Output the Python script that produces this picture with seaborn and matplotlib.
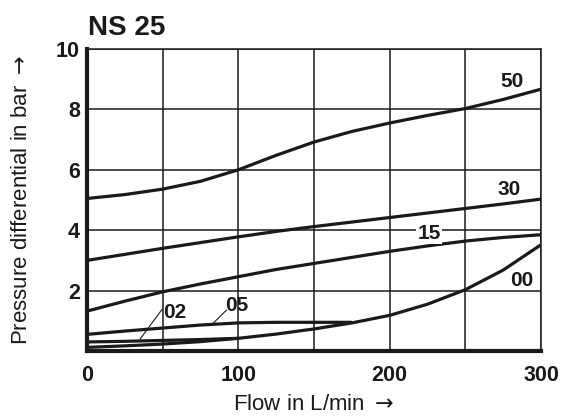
import numpy as np
import pandas as pd
import matplotlib
matplotlib.use("Agg")
import matplotlib.pyplot as plt
import seaborn as sns

# ==========================================
# 数据
# ==========================================
flow = [0, 25, 50, 75, 100, 125, 150, 175, 200, 225, 250, 275, 300]

dp_50 = [5.05, 5.18, 5.36, 5.62, 6.00, 6.48, 6.92, 7.27, 7.55, 7.80, 8.03, 8.33, 8.67]
dp_30 = [3.00, 3.20, 3.40, 3.59, 3.78, 3.96, 4.12, 4.27, 4.42, 4.57, 4.72, 4.87, 5.03]
dp_15 = [1.32, 1.65, 1.96, 2.22, 2.46, 2.70, 2.90, 3.10, 3.30, 3.48, 3.64, 3.76, 3.85]
dp_00 = [0.12, 0.17, 0.23, 0.31, 0.42, 0.56, 0.73, 0.93, 1.18, 1.55, 2.03, 2.68, 3.52]

flow_05 = [0, 25, 50, 75, 100, 125, 150, 175]
dp_05 = [0.55, 0.66, 0.76, 0.86, 0.93, 0.95, 0.95, 0.95]

flow_02 = [0, 25, 50, 75, 100]
dp_02 = [0.30, 0.32, 0.35, 0.38, 0.42]

curve_names = ["50", "30", "15", "00", "05", "02"]
curve_x = [flow, flow, flow, flow, flow_05, flow_02]
curve_y = [dp_50, dp_30, dp_15, dp_00, dp_05, dp_02]

# 曲线标注位置
label_x = [281, 279, 226, 287, 99, 58]
label_y = [8.94, 5.35, 3.90, 2.33, 1.52, 1.27]

# 引线 (02, 05)
leader_02 = ([49.8, 35.0], [1.39, 0.39])
leader_05 = ([92.3, 83.4], [1.36, 0.92])

x_ticks = [0, 50, 100, 150, 200, 250, 300]
x_ticklabels = ["0", "", "100", "", "200", "", "300"]
y_ticks = [2, 4, 6, 8, 10]
y_ticklabels = ["2", "4", "6", "8", "10"]

# ==========================================
# 绘图
# ==========================================
sns.set_style("white")
plt.rcParams['font.family'] = ['Liberation Sans', 'DejaVu Sans']

ink = "#1a1a1a"
fig = plt.figure(figsize=(5.63, 4.19), dpi=100)
ax = fig.add_axes([0.1545, 0.1623, 0.8065, 0.7207])

for name, xs, ys in zip(curve_names, curve_x, curve_y):
    df = pd.DataFrame({"flow": xs, "dp": ys})
    sns.lineplot(data=df, x="flow", y="dp", ax=ax, color=ink, linewidth=2.3,
                 solid_capstyle="butt", zorder=3)

for xs, ys in [leader_02, leader_05]:
    ax.plot(xs, ys, color=ink, linewidth=0.8, zorder=3)

for name, lx, ly in zip(curve_names, label_x, label_y):
    bbox = None
    if name == "15":
        bbox = dict(facecolor="white", edgecolor="none", pad=1.0)
    ax.text(lx, ly, name, ha="center", va="center", fontsize=15, fontweight="bold",
            color=ink, bbox=bbox, zorder=4)

ax.set_xlim(0, 300)
ax.set_ylim(0, 10)
ax.set_xticks(x_ticks)
ax.set_xticklabels(x_ticklabels)
ax.set_yticks(y_ticks)
ax.set_yticklabels(y_ticklabels)
ax.tick_params(axis="both", length=0, labelsize=15.5, colors=ink)
ax.tick_params(axis="x", pad=10)
ax.tick_params(axis="y", pad=5)
for lab in ax.get_xticklabels() + ax.get_yticklabels():
    lab.set_fontweight("bold")

ax.grid(True, color=ink, linewidth=1.1)
ax.set_axisbelow(True)

for side in ["top", "right"]:
    ax.spines[side].set_linewidth(1.1)
    ax.spines[side].set_color(ink)
for side in ["left", "bottom"]:
    ax.spines[side].set_linewidth(3)
    ax.spines[side].set_color(ink)
    ax.spines[side].set_zorder(5)

ax.set_xlabel(r"Flow in L/min $\rightarrow$", fontsize=16, color=ink)
ax.xaxis.set_label_coords(0.5, -0.143)
ax.set_ylabel(r"Pressure differential in bar $\rightarrow$", fontsize=16, color=ink)
ax.yaxis.set_label_coords(-0.12, 0.5)

fig.text(0.156, 0.916, "NS 25", fontsize=20, fontweight="bold", color=ink,
         ha="left", va="baseline")

plt.savefig("out.png", dpi=100)
plt.close()
